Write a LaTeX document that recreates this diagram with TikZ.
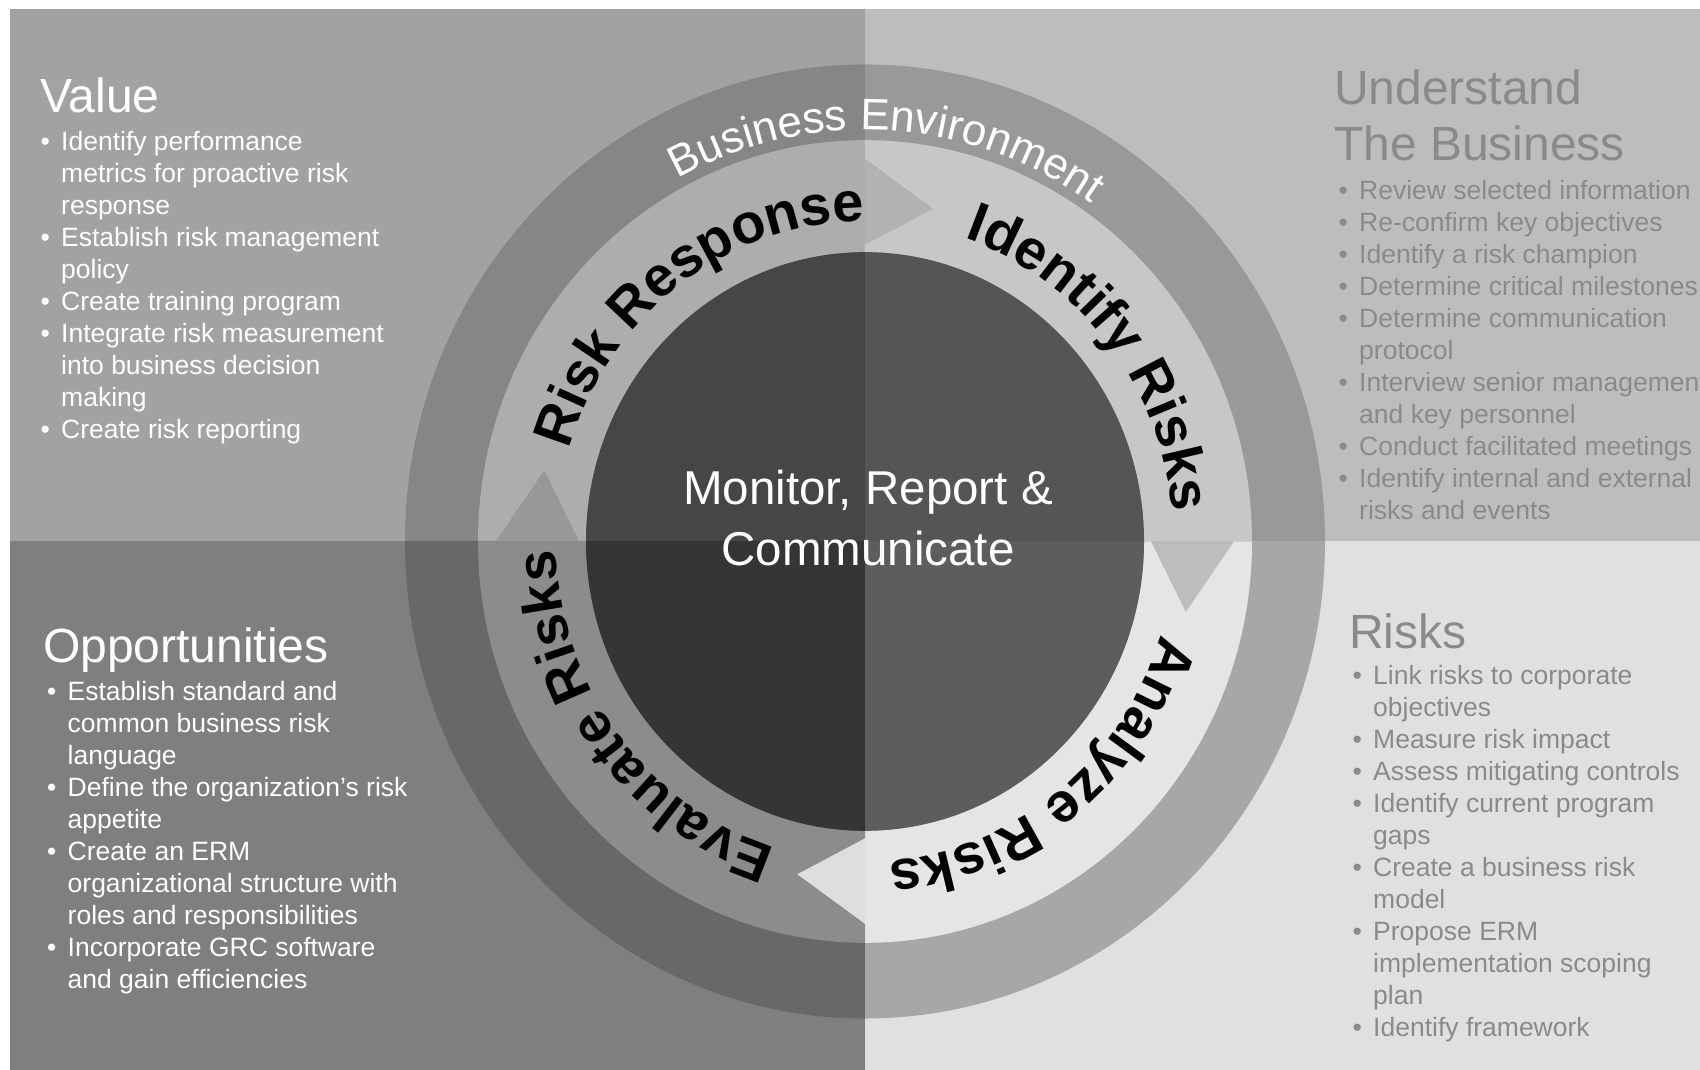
\documentclass[tikz,border=0pt]{standalone}
\usepackage{fontspec}
\setmainfont{Liberation Sans}
\usetikzlibrary{decorations.text}

% quadrant backgrounds
\definecolor{tlBg}{HTML}{A2A2A2}
\definecolor{trBg}{HTML}{BDBDBD}
\definecolor{blBg}{HTML}{7F7F7F}
\definecolor{brBg}{HTML}{E0E0E0}
% outer "Business Environment" ring, per quadrant
\definecolor{tlRing}{HTML}{868686}
\definecolor{trRing}{HTML}{999999}
\definecolor{blRing}{HTML}{686868}
\definecolor{brRing}{HTML}{A7A7A7}
% central disc, per quadrant
\definecolor{tlHub}{HTML}{464646}
\definecolor{trHub}{HTML}{555555}
\definecolor{blHub}{HTML}{353535}
\definecolor{brHub}{HTML}{5D5D5D}
% process arrows, per quadrant
\definecolor{rrTL}{HTML}{ADADAD}
\definecolor{rrTR}{HTML}{B2B2B2}
\definecolor{idTR}{HTML}{C7C7C7}
\definecolor{idBR}{HTML}{BDBDBD}
\definecolor{anBR}{HTML}{E5E5E5}
\definecolor{anBL}{HTML}{DEDEDE}
\definecolor{evBL}{HTML}{8C8C8C}
\definecolor{evTL}{HTML}{989898}
\definecolor{greyText}{HTML}{8A8A8A}

% one curved arrow of the cycle, from tail angle #1 clockwise to #1-90
\newcommand\arrowseg[1]{({#1}:387) arc[start angle={#1}, end angle={#1-90}, radius=387]
  -- ({#1-90}:369) -- ({#1-102}:328) -- ({#1-90}:286) -- ({#1-90}:279)
  arc[start angle={#1-90}, end angle={#1}, radius=279]
  -- ({#1}:286) -- ({#1-12}:328) -- ({#1}:369) -- cycle}

% the whole wheel in one colour set: ring, four arrows, hub
\newcommand\wheel[6]{%
  \begin{scope}[shift={(865,528.5)}, yscale=1.037]
    \fill[#1] (0,0) circle[radius=460];
    \fill[#2] \arrowseg{180};
    \fill[#3] \arrowseg{90};
    \fill[#4] \arrowseg{0};
    \fill[#5] \arrowseg{270};
    \fill[#6] (0,0) circle[radius=279];
  \end{scope}}

\newcommand\blist[1]{\begin{tabular}[t]{@{}p{20.5pt}@{}l@{}}#1\end{tabular}}

\tikzset{
  heading/.style={anchor=base west, inner sep=0pt, font=\fontsize{48}{48}\selectfont},
  bullets/.style={anchor=base west, inner sep=0pt, font=\fontsize{26.5}{32}\selectfont},
  hubtext/.style={anchor=base, inner sep=0pt, text=white, font=\fontsize{47.5}{47.5}\selectfont},
  arclabel/.style={decorate, decoration={text along path, text align=center,
      text={|\fontsize{56}{56}\selectfont\bfseries|#1}}},
  envlabel/.style={decorate, decoration={text along path, text align=center, text color=white,
      text={|\fontsize{44}{44}\selectfont|#1}}},
}

\begin{document}
\begin{tikzpicture}[x=1pt, y=1pt]
  \useasboundingbox (0,0) rectangle (1700,1070);
  \clip (0,0) rectangle (1700,1070);
  \fill[white] (0,0) rectangle (1700,1070);

  % top left
  \begin{scope}
    \clip (10,528.5) rectangle (865,1061);
    \fill[tlBg] (10,528.5) rectangle (865,1061);
    \wheel{tlRing}{rrTL}{idTR}{anBR}{evTL}{tlHub}
  \end{scope}
  % top right
  \begin{scope}
    \clip (865,528.5) rectangle (1700,1061);
    \fill[trBg] (865,528.5) rectangle (1700,1061);
    \wheel{trRing}{rrTR}{idTR}{anBR}{evBL}{trHub}
  \end{scope}
  % bottom left
  \begin{scope}
    \clip (10,0) rectangle (865,528.5);
    \fill[blBg] (10,0) rectangle (865,528.5);
    \wheel{blRing}{rrTL}{idBR}{anBL}{evBL}{blHub}
  \end{scope}
  % bottom right
  \begin{scope}
    \clip (865,0) rectangle (1700,528.5);
    \fill[brBg] (865,0) rectangle (1700,528.5);
    \wheel{brRing}{rrTR}{idBR}{anBR}{evBL}{brHub}
  \end{scope}

  % curved labels
  \begin{scope}[shift={(865,528.5)}, yscale=1.037]
    \path[envlabel={Business Environment}] (146.75:397) arc[start angle=146.75, end angle=26.75, radius=397];
    \path[arclabel={Risk Response}] (176.5:309) arc[start angle=176.5, end angle=76.5, radius=309];
    \path[arclabel={Identify Risks}] (88.5:309) arc[start angle=88.5, end angle=-11.5, radius=309];
    \path[arclabel={Analyze Risks}] (-1.5:309) arc[start angle=-1.5, end angle=-101.5, radius=309];
    \path[arclabel={Evaluate Risks}] (267.5:309) arc[start angle=267.5, end angle=167.5, radius=309];
  \end{scope}

  % hub text
  \node[hubtext] (hubA) at (868,565) {Monitor, Report \&};
  \node[hubtext] (hubB) at (868,504) {Communicate};

  % Value
  \node[heading, text=white] (valueT) at (40,957) {Value};
  \node[bullets, text=white] (valueL) at (40.5,919.5) {\blist{%
    • & Identify performance\\
      & metrics for proactive risk\\
      & response\\
    • & Establish risk management\\
      & policy\\
    • & Create training program\\
    • & Integrate risk measurement\\
      & into business decision\\
      & making\\
    • & Create risk reporting}};

  % Opportunities
  \node[heading, text=white] (oppT) at (43,407) {Opportunities};
  \node[bullets, text=white] (oppL) at (47,369.5) {\blist{%
    • & Establish standard and\\
      & common business risk\\
      & language\\
    • & Define the organization’s risk\\
      & appetite\\
    • & Create an ERM\\
      & organizational structure with\\
      & roles and responsibilities\\
    • & Incorporate GRC software\\
      & and gain efficiencies}};

  % Understand the business
  \node[heading, text=greyText] (undT) at (1334,965) {Understand};
  \node[heading, text=greyText] (undT2) at (1334,909.5) {The Business};
  \node[bullets, text=greyText] (undL) at (1338.5,870.5) {\blist{%
    • & Review selected information\\
    • & Re-confirm key objectives\\
    • & Identify a risk champion\\
    • & Determine critical milestones\\
    • & Determine communication\\
      & protocol\\
    • & Interview senior management\\
      & and key personnel\\
    • & Conduct facilitated meetings\\
    • & Identify internal and external\\
      & risks and events}};

  % Risks
  \node[heading, text=greyText] (riskT) at (1349,421) {Risks};
  \node[bullets, text=greyText] (riskL) at (1352.5,385) {\blist{%
    • & Link risks to corporate\\
      & objectives\\
    • & Measure risk impact\\
    • & Assess mitigating controls\\
    • & Identify current program\\
      & gaps\\
    • & Create a business risk\\
      & model\\
    • & Propose ERM\\
      & implementation scoping\\
      & plan\\
    • & Identify framework}};
\end{tikzpicture}
\end{document}
